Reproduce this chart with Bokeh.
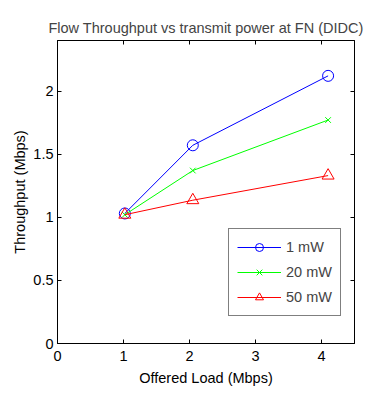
from bokeh.plotting import figure
from bokeh.models import Range1d, LinearAxis, FixedTicker, Legend, LegendItem
from bokeh.embed import file_html
from bokeh.resources import INLINE

offered_load = [1.02, 2.05, 4.1]
thr_1mw = [1.03, 1.57, 2.12]
thr_20mw = [1.02, 1.37, 1.77]
thr_50mw = [1.02, 1.135, 1.33]
series_labels = ["1 mW", "20 mW", "50 mW"]
x_ticks = [0, 1, 2, 3, 4]
y_ticks = [0, 0.5, 1, 1.5, 2]

FONT = "Liberation Sans"

p = figure(width=368, height=393, output_backend="svg", toolbar_location=None,
           x_range=Range1d(0, 4.5), y_range=Range1d(0, 2.4),
           min_border_left=57, min_border_right=14, min_border_top=40, min_border_bottom=50,
           title="Flow Throughput vs transmit power at FN (DIDC)")
p.title.text_font = FONT
p.title.text_font_size = "14.5px"
p.title.text_font_style = "normal"
p.title.align = "center"
p.title.offset = 0
p.grid.visible = False
p.outline_line_color = "black"
p.outline_line_width = 1
p.background_fill_color = "white"
p.border_fill_color = "white"

for ax in p.xaxis + p.yaxis:
    ax.major_tick_in = 4
    ax.major_tick_out = 0
    ax.minor_tick_line_color = None
    ax.axis_line_color = "black"
    ax.major_label_text_font = FONT
    ax.major_label_text_font_size = "14.5px"
    ax.major_label_text_color = "black"
    ax.axis_label_text_font = FONT
    ax.axis_label_text_font_size = "14.5px"
    ax.axis_label_text_font_style = "normal"
    ax.axis_label_text_color = "black"
p.xaxis.ticker = FixedTicker(ticks=x_ticks)
p.yaxis.ticker = FixedTicker(ticks=y_ticks)
p.xaxis.axis_label = "Offered Load (Mbps)"
p.yaxis.axis_label = "Throughput (Mbps)"
p.xaxis.major_label_standoff = 7
p.yaxis.major_label_standoff = 4
p.xaxis.axis_label_standoff = 6
p.yaxis.axis_label_standoff = 2

top = LinearAxis(ticker=FixedTicker(ticks=x_ticks), major_tick_in=4, major_tick_out=0,
                 minor_tick_line_color=None, major_label_text_color=None)
right = LinearAxis(ticker=FixedTicker(ticks=y_ticks), major_tick_in=4, major_tick_out=0,
                   minor_tick_line_color=None, major_label_text_color=None)
p.add_layout(top, "above")
p.add_layout(right, "right")

l1 = p.line(offered_load, thr_1mw, line_color="blue", line_width=1)
m1 = p.scatter(offered_load, thr_1mw, marker="circle", size=11, fill_color=None, line_color="blue")
l2 = p.line(offered_load, thr_20mw, line_color="#00ff00", line_width=1)
m2 = p.scatter(offered_load, thr_20mw, marker="x", size=8, line_color="#00ff00")
l3 = p.line(offered_load, thr_50mw, line_color="red", line_width=1)
m3 = p.scatter(offered_load, thr_50mw, marker="triangle", size=12, fill_color=None, line_color="red")

legend = Legend(items=[LegendItem(label=series_labels[0], renderers=[l1, m1]),
                       LegendItem(label=series_labels[1], renderers=[l2, m2]),
                       LegendItem(label=series_labels[2], renderers=[l3, m3])],
                location=(171, 27))
legend.border_line_color = "black"
legend.border_line_width = 1
legend.label_text_font = FONT
legend.label_text_font_size = "14.5px"
legend.glyph_width = 44
legend.spacing = 5
legend.padding = 8
legend.margin = 0
legend.background_fill_alpha = 1
p.add_layout(legend, "center")

open("out.html", "w").write(file_html(p, INLINE))
